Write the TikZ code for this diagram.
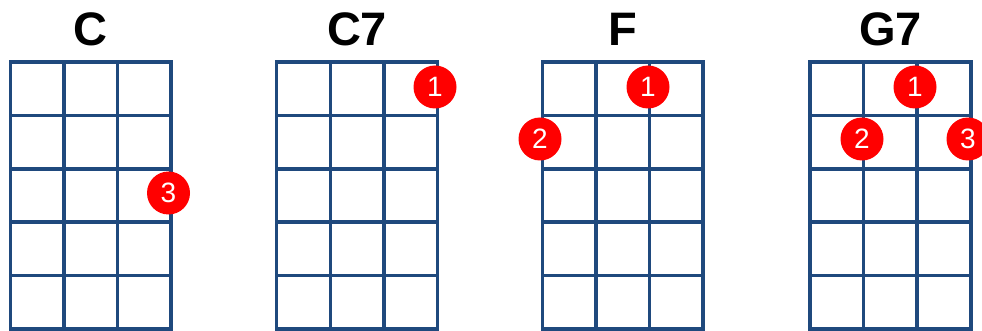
\documentclass[tikz,border=0pt]{standalone}
\usepackage{fontspec}
\setmainfont{Liberation Sans}
\definecolor{gridblue}{RGB}{31,73,125}
\definecolor{dotred}{RGB}{255,0,0}
\begin{document}
\begin{tikzpicture}[x=1pt,y=-1pt,
  gridline/.style={draw=gridblue,line width=3.5pt,line cap=rect},
  finger/.style={circle,fill=dotred,text=white,minimum size=43pt,inner sep=0pt,font=\fontsize{28}{28}\selectfont},
  chordname/.style={anchor=base,font=\fontsize{47}{47}\selectfont\bfseries}]
\useasboundingbox (0,0) rectangle (982,331);
\clip (0,0) rectangle (982,331);
\fill[white] (0,0) rectangle (982,331);
\foreach \L in {10.3,276.7,542.3,810}{
  \foreach \i in {0,...,3} \draw[gridline] (\L+\i*53.6,62) -- (\L+\i*53.6,329);
  \foreach \j in {0,...,5} \draw[gridline] (\L,62+\j*53.4) -- (\L+160.8,62+\j*53.4);
}
\node[chordname] (tC)  at (90.7,46) {C};
\node[chordname] (tC7) at (357.1,46) {C7};
\node[chordname] (tF)  at (622.7,46) {F};
\node[chordname] (tG7) at (890.4,46) {G7};
\node[finger] (c3)  at (168.5,193) {3};
\node[finger] (cs1) at (435,87) {1};
\node[finger] (f1)  at (648,87) {1};
\node[finger] (f2)  at (540,139) {2};
\node[finger] (g1)  at (915,87) {1};
\node[finger] (g2)  at (862,139) {2};
\node[finger] (g3)  at (968,139) {3};
\end{tikzpicture}
\end{document}
